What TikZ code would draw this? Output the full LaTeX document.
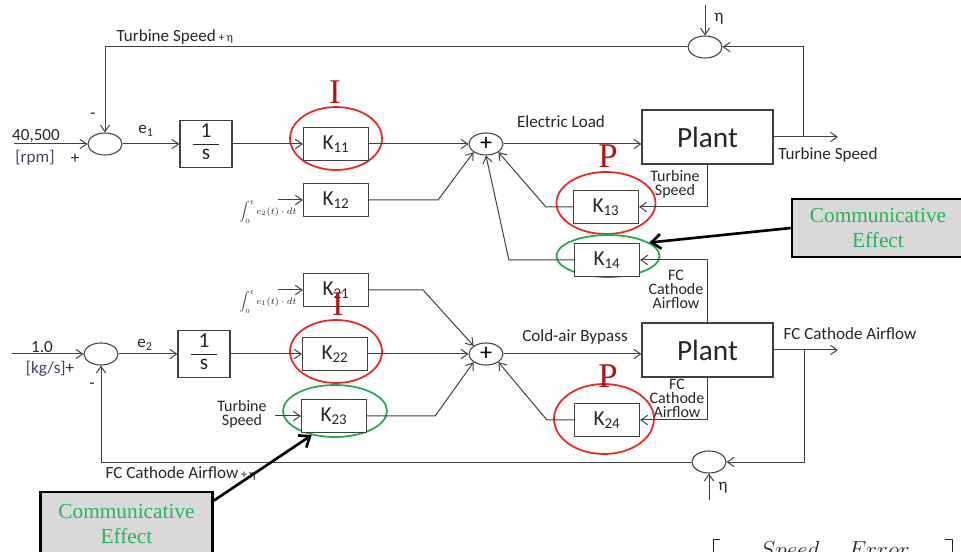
\documentclass[tikz,border=0pt]{standalone}
\usepackage{amsmath}
\usepackage{fontspec}
\setmainfont{Carlito}
\newfontfamily\serifface{Liberation Serif}
\usetikzlibrary{arrows.meta,shapes.geometric,calc}
\definecolor{ink}{HTML}{262626}
\definecolor{wire}{HTML}{404040}
\definecolor{unit}{HTML}{4A3D6E}
\definecolor{ringred}{HTML}{EE2424}
\definecolor{ringgreen}{HTML}{26A84C}
\definecolor{markred}{HTML}{B01414}
\definecolor{fxgreen}{HTML}{2AB45A}
\definecolor{fxgray}{HTML}{D9D9D9}
\newcommand{\gain}[1]{K\textsubscript{#1}}
\newcommand{\recip}{\begin{tabular}{c}1\\\hline s\end{tabular}}
\tikzset{>={Straight Barb[length=5pt,width=7pt]},blk/.style={draw=wire,line width=0.9pt,fill=white,inner sep=0pt,text=ink},kbox/.style={blk,minimum width=48.75pt,minimum height=24.75pt,font=\fontsize{16}{17}\selectfont},intbox/.style={blk,minimum width=39pt,minimum height=35.25pt,font=\fontsize{16}{16}\selectfont},plant/.style={blk,minimum width=98.25pt,minimum height=40.5pt,font=\fontsize{22}{24}\selectfont},sumpt/.style={ellipse,draw=wire,line width=0.8pt,fill=white,inner sep=0pt,minimum width=25.5pt,minimum height=16.5pt},ring/.style={ellipse,line width=1.3pt,inner sep=0pt},arr/.style={->,wire,line width=0.75pt},lbl/.style={text=ink,font=\fontsize{12.8}{14}\selectfont},smalllabel/.style={text=ink,font=\fontsize{12}{10.5}\selectfont,align=center},intlabel/.style={text=ink,font=\fontsize{7}{8}\selectfont},pidmark/.style={text=markred,font=\serifface\fontsize{26}{26}\selectfont},fxbox/.style={draw=black,line width=2pt,fill=fxgray,align=center,text=fxgreen,font=\serifface\fontsize{16}{19}\selectfont,minimum width=129pt,minimum height=43.5pt,inner sep=0pt},fxarr/.style={-{Straight Barb[length=7pt,width=11pt]},line width=2pt,black}}

\begin{document}
\begin{tikzpicture}[x=0.75pt,y=-0.75pt]
\useasboundingbox (0,0) rectangle (961,552);
\foreach \nm/\x/\y/\w/\h/\c in {11/336/138.5/69pt/47.25pt/ringred,13/606/203/74.25pt/46.5pt/ringred,14/608/256/77.25pt/31.5pt/ringgreen,22/336/351.5/69pt/47.25pt/ringred,23/335/411/78pt/39pt/ringgreen,24/604/419/75pt/52.5pt/ringred}
\node[ring,draw=\c,minimum width=\w,minimum height=\h] (r\nm) at (\x,\y) {};
\foreach \nm/\x/\y in {11/336/144,12/336/200,13/606/207,14/607/260,21/336/290,22/335/354,23/334/416,24/607/420}
\node[kbox] (k\nm) at (\x,\y) {\gain{\nm}};
\node[sumpt] (s1) at (105,144) {};
\node[sumpt] (s2) at (101,354) {};
\node[sumpt,font=\fontsize{18}{18}\selectfont] (p1) at (486,144) {+};
\node[sumpt,font=\fontsize{18}{18}\selectfont] (p2) at (486,354) {+};
\node[sumpt] (n1) at (705,47) {};
\node[sumpt] (n2) at (709,462) {};
\node[intbox] (i1) at (206,144) {\recip};
\node[intbox] (i2) at (204,354) {\recip};
\node[plant] (pl1) at (707.5,137) {Plant};
\node[plant] (pl2) at (707.5,350) {Plant};
\coordinate (in1) at (14,144);
\coordinate (in2) at (12,354);
\coordinate (out1) at (838,137);
\coordinate (out2) at (838,350);
\coordinate (tap1) at (803,137);
\coordinate (tap2) at (804,350);
\coordinate (eta1) at (705,5);
\coordinate (eta2) at (709,500);
\coordinate (kin12) at (278,200);
\coordinate (kin21) at (278,290);
\coordinate (kin23) at (275,416);
\draw[arr] (in1) -- (s1.west);
\draw[arr] (s1.east) -- (i1.west);
\draw[arr] (i1.east) -- (k11.west);
\draw[arr] (k11.east) -- (p1.west);
\draw[arr] (p1.east) -- (p1.east -| pl1.west);
\draw[arr] (pl1.east) -- (out1);
\draw[arr] (tap1) |- (n1.east);
\draw[arr] (n1.west) -| (s1.north);
\draw[arr] (eta1) -- (n1.north);
\draw[arr] (kin12) -- (k12.west);
\draw[arr] (k12.east) -- ++(69,0) -- (p1.south west);
\draw[arr] (pl1.south) |- (k13.east);
\draw[arr] (k13.west) -- ++(-27,0) -- (p1.south east);
\draw[arr] (pl2.north) |- (k14.east);
\draw[arr] (k14.west) -- ++(-65,0) -- (p1.south);
\draw[arr] (in2) -- (s2.west);
\draw[arr] (s2.east) -- (i2.west);
\draw[arr] (i2.east) -- (k22.west);
\draw[arr] (k22.east) -- (p2.west);
\draw[arr] (p2.east) -- (p2.east -| pl2.west);
\draw[arr] (pl2.east) -- (out2);
\draw[arr] (tap2) |- (n2.east);
\draw[arr] (n2.west) -| (s2.south);
\draw[arr] (eta2) -- (n2.south);
\draw[arr] (kin21) -- (k21.west);
\draw[arr] (k21.east) -- ++(54,0) -- (p2.north west);
\draw[arr] (kin23) -- (k23.west);
\draw[arr] (k23.east) -- ++(68,0) -- (p2.south west);
\draw[arr] (pl2.south) |- (k24.east);
\draw[arr] (k24.west) -- ++(-27,0) -- (p2.south east);
\node[lbl,anchor=west] (fb1) at (112,37) {Turbine Speed\,{\fontsize{9}{9}\selectfont+\,η}};
\node[lbl,anchor=west] (fb2) at (101,474) {FC Cathode Airflow\,{\fontsize{9}{9}\selectfont+\,η}};
\node[lbl] (ref1) at (36,136) {40,500};
\node[lbl,text=unit] (unit1) at (35,158) {[rpm]};
\node[lbl] (pos1) at (75,159) {+};
\node[lbl] (neg1) at (93,116) {-};
\node[lbl] (err1) at (146,131) {e\textsubscript{1}};
\node[lbl] (ref2) at (42,347) {1.0};
\node[lbl] (unit2) at (50,369) {\textcolor{unit}{[kg/s]}+};
\node[lbl] (neg2) at (92,386) {-};
\node[lbl] (err2) at (145,345) {e\textsubscript{2}};
\node[lbl] (elec) at (561,122) {Electric Load};
\node[lbl] (cold) at (575,337) {Cold-air Bypass};
\node[lbl] (y1) at (828,155) {Turbine Speed};
\node[lbl] (y2) at (850,334) {FC Cathode Airflow};
\node[lbl] (etal1) at (719,19) {η};
\node[lbl] (etal2) at (723,488) {η};
\node[smalllabel] (fbk13) at (675,184) {Turbine\\Speed};
\node[smalllabel] (fbk14) at (676,289) {FC\\Cathode\\Airflow};
\node[smalllabel] (fbk24) at (677,398) {FC\\Cathode\\Airflow};
\node[smalllabel] (fbk23) at (242,414) {Turbine\\Speed};
\node[intlabel] (int12) at (268,212) {$\displaystyle\int_0^t e_2(t)\cdot dt$};
\node[intlabel] (int21) at (268,302) {$\displaystyle\int_0^t e_1(t)\cdot dt$};
\node[pidmark] (mi1) at (335,92) {I};
\node[pidmark] (mp1) at (608,156) {P};
\node[pidmark] (mi2) at (338,304) {I};
\node[pidmark] (mp2) at (608,376) {P};
\node[fxbox] (fx1) at (878,228) {Communicative\\Effect};
\node[fxbox,minimum height=48pt] (fx2) at (126.5,524) {Communicative\\Effect};
\draw[fxarr] (fx1.west) -- (r14.18);
\draw[fxarr] (fx2.15) -- (r23.226);
\node[text=ink,anchor=base,font=\fontsize{17}{20}\selectfont] (sperr) at (835,557) {$Speed\quad\;Error$};
\draw[ink,line width=0.6pt] (720,539) -- (713,539) -- (713,560) (945,539) -- (952,539) -- (952,560);
\end{tikzpicture}
\end{document}
